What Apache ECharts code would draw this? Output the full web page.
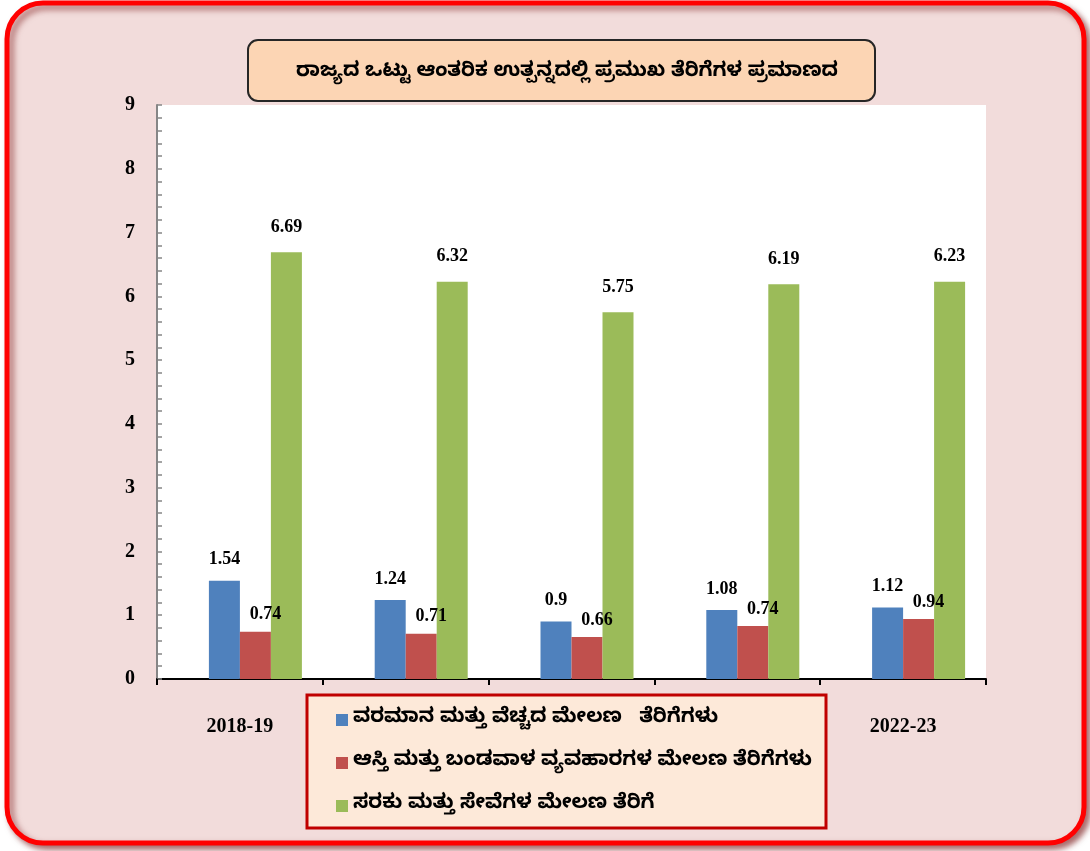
<!DOCTYPE html>
<html>
<head>
<meta charset="utf-8">
<script src="https://cdn.jsdelivr.net/npm/echarts@6/dist/echarts.min.js"></script>
<style>
  html, body { margin: 0; padding: 0; background: #ffffff; }
  #chart { width: 1090px; height: 851px; }
</style>
</head>
<body>
<div id="chart"></div>
<script>
var categories = ['2018-19', '2019-20', '2020-21', '2021-22', '2022-23'];
var seriesNames = [
    'ವರಮಾನ ಮತ್ತು ವೆಚ್ಚದ ಮೇಲಣ   ತೆರಿಗೆಗಳು',
    'ಆಸ್ತಿ ಮತ್ತು ಬಂಡವಾಳ ವ್ಯವಹಾರಗಳ ಮೇಲಣ ತೆರಿಗೆಗಳು',
    'ಸರಕು ಮತ್ತು ಸೇವೆಗಳ ಮೇಲಣ ತೆರಿಗೆ'
];
// bar heights as drawn
var incomeTax = [1.54, 1.24, 0.9, 1.08, 1.12];
var propertyTax = [0.74, 0.71, 0.66, 0.83, 0.94];
var goodsTax = [6.69, 6.23, 5.75, 6.19, 6.23];
// numbers printed above the bars
var incomeLabels = ['1.54', '1.24', '0.9', '1.08', '1.12'];
var propertyLabels = ['0.74', '0.71', '0.66', '0.74', '0.94'];
var goodsLabels = ['6.69', '6.32', '5.75', '6.19', '6.23'];
var yTicks = [0, 1, 2, 3, 4, 5, 6, 7, 8, 9];

var titleText = 'ರಾಜ್ಯದ ಒಟ್ಟು ಆಂತರಿಕ ಉತ್ಪನ್ನದಲ್ಲಿ ಪ್ರಮುಖ ತೆರಿಗೆಗಳ ಪ್ರಮಾಣದ';

var knFont = '"Noto Sans Kannada", "Noto Sans", sans-serif';
var numFont = '"Liberation Serif", "Times New Roman", serif';

function numLabel(texts, dist, offset) {
    return {
        show: true,
        position: 'top',
        distance: dist,
        offset: offset || [0, 0],
        color: '#000',
        fontFamily: numFont,
        fontWeight: 'bold',
        fontSize: 18,
        formatter: function (p) { return texts[p.dataIndex]; }
    };
}

var chart = echarts.init(document.getElementById('chart'));
chart.setOption({
    animation: false,
    backgroundColor: '#ffffff',
    title: {
        text: titleText,
        left: 562,
        top: 59,
        textAlign: 'center',
        z: 101,
        textStyle: { fontFamily: knFont, fontWeight: 'bold', fontSize: 20, color: '#000' }
    },
    graphic: [{
        type: 'rect',
        z: -10,
        shape: { x: 7, y: 3, width: 1077, height: 840, r: 36 },
        style: {
            fill: '#f2dcdb', stroke: '#ff0000', lineWidth: 5,
            shadowBlur: 6, shadowOffsetX: 4, shadowOffsetY: 4, shadowColor: 'rgba(110,0,0,0.55)'
        }
    }, {
        type: 'rect',
        z: -9,
        shape: { x: 157, y: 105, width: 829, height: 574 },
        style: { fill: '#ffffff' }
    }, {
        type: 'rect',
        z: 100,
        shape: { x: 248, y: 40, width: 627, height: 61, r: 10 },
        style: { fill: '#fcd5b4', stroke: '#262626', lineWidth: 2 }
    }, {
        type: 'rect',
        z: 100,
        shape: { x: 307, y: 695, width: 519, height: 133 },
        style: { fill: '#fde9d9', stroke: '#c00000', lineWidth: 3 }
    }],
    legend: {
        orient: 'vertical',
        left: 331,
        top: 703,
        z: 101,
        data: seriesNames,
        icon: 'rect',
        itemWidth: 12,
        itemHeight: 12,
        itemGap: 19,
        selectedMode: false,
        textStyle: { fontFamily: knFont, fontWeight: 'bold', fontSize: 20, color: '#000', lineHeight: 24 }
    },
    grid: { left: 157, right: 104, top: 105, bottom: 172, containLabel: false },
    xAxis: {
        type: 'category',
        data: categories,
        axisLine: { lineStyle: { color: '#000', width: 2 } },
        axisTick: { show: true, length: 6, lineStyle: { color: '#000', width: 2 } },
        axisLabel: {
            margin: 38, color: '#000', fontFamily: numFont, fontWeight: 'bold', fontSize: 20
        }
    },
    yAxis: {
        type: 'value',
        min: yTicks[0],
        max: yTicks[yTicks.length - 1],
        interval: 1,
        splitLine: { show: false },
        axisLine: { show: true, lineStyle: { color: '#868686', width: 2 } },
        axisTick: { show: true, inside: true, length: 5, lineStyle: { color: '#868686', width: 1.5 } },
        minorTick: { show: true, splitNumber: 5, length: 5, lineStyle: { color: '#868686', width: 1.5 } },
        axisLabel: {
            margin: 22, color: '#000', fontFamily: numFont, fontWeight: 'bold', fontSize: 20
        }
    },
    series: [{
        name: 'spacer',
        type: 'bar',
        barWidth: 31,
        barGap: '0%',
        data: [0, 0, 0, 0, 0],
        itemStyle: { color: 'rgba(0,0,0,0)' },
        silent: true
    }, {
        name: seriesNames[0],
        type: 'bar',
        barWidth: 31,
        barGap: '0%',
        data: incomeTax,
        itemStyle: { color: '#4f81bd' },
        label: numLabel(incomeLabels, 12)
    }, {
        name: seriesNames[1],
        type: 'bar',
        barWidth: 31,
        barGap: '0%',
        data: propertyTax,
        itemStyle: { color: '#c0504d' },
        label: numLabel(propertyLabels, 8, [10, 0])
    }, {
        name: seriesNames[2],
        type: 'bar',
        barWidth: 31,
        barGap: '0%',
        data: goodsTax,
        itemStyle: { color: '#9bbb59' },
        label: numLabel(goodsLabels, 16)
    }]
});
</script>
</body>
</html>
